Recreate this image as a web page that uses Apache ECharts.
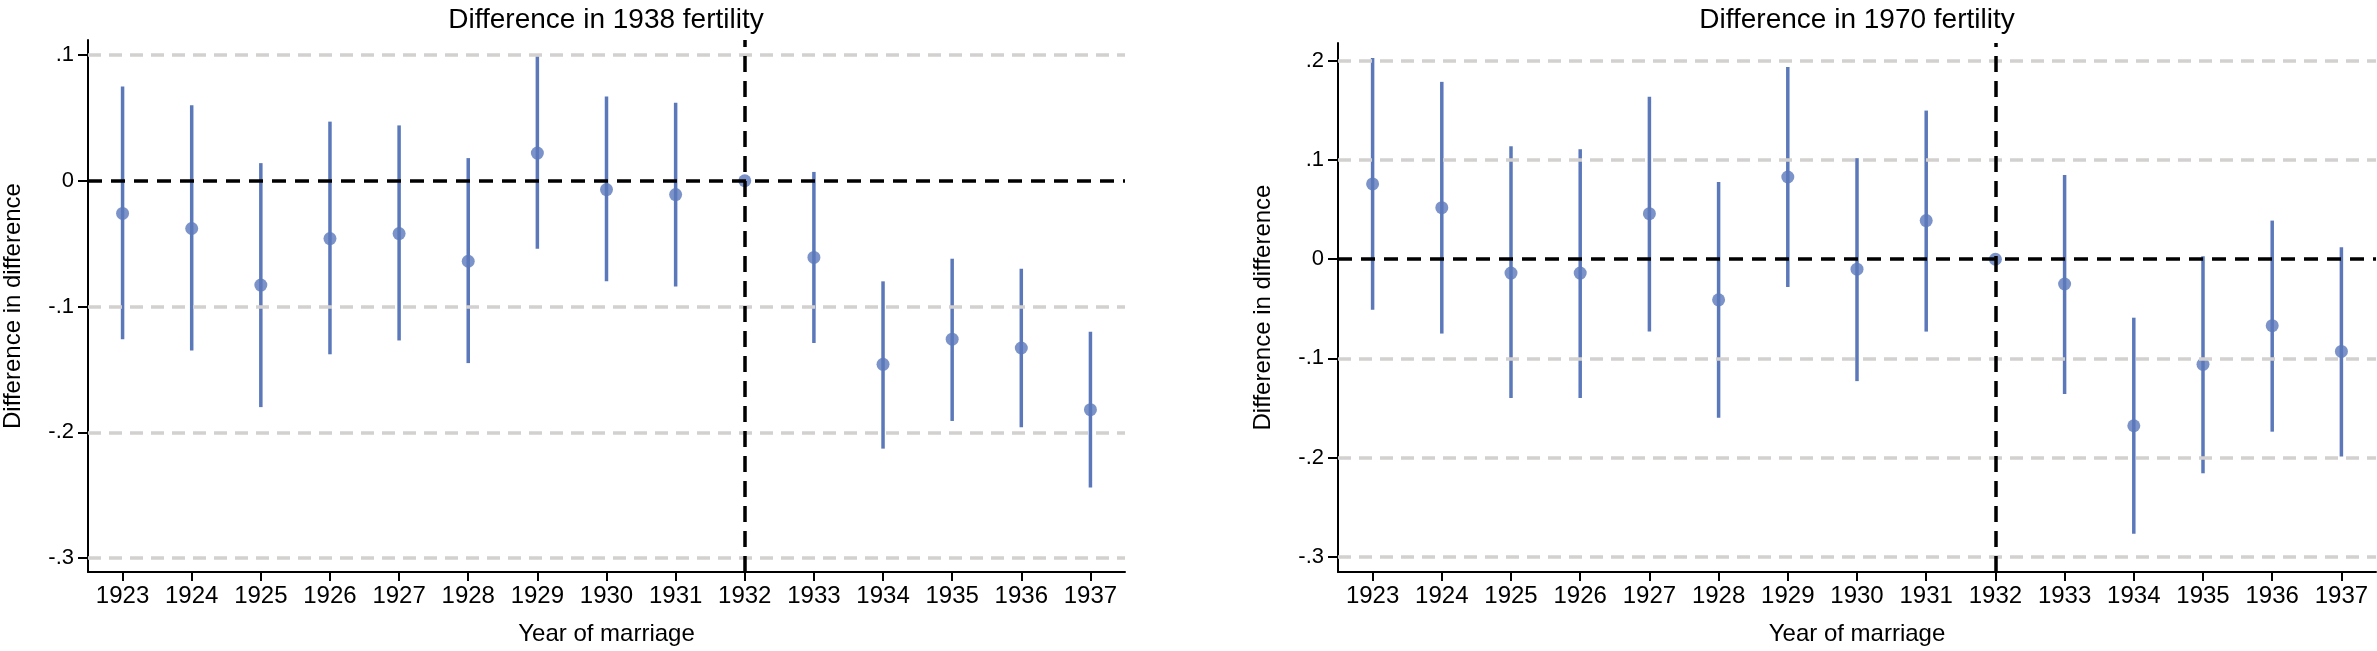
<!DOCTYPE html>
<html><head><meta charset="utf-8">
<script src="https://cdn.jsdelivr.net/npm/echarts@6/dist/echarts.min.js"></script>
<style>html,body{margin:0;padding:0;background:#fff}#c{width:2377px;height:651px}</style>
</head><body><div id="c"></div>
<script>
const years = ['1923','1924','1925','1926','1927','1928','1929','1930','1931','1932','1933','1934','1935','1936','1937'];

const est1938 = [-0.026, -0.038, -0.083, -0.046, -0.042, -0.064, 0.022, -0.007, -0.011, 0, -0.061, -0.146, -0.126, -0.133, -0.182];
const lo1938  = [-0.126, -0.135, -0.180, -0.138, -0.127, -0.145, -0.054, -0.080, -0.084, null, -0.129, -0.213, -0.191, -0.196, -0.244];
const hi1938  = [0.075, 0.060, 0.014, 0.047, 0.044, 0.018, 0.099, 0.067, 0.062, null, 0.007, -0.080, -0.062, -0.070, -0.120];

const est1970 = [0.076, 0.052, -0.014, -0.014, 0.046, -0.041, 0.083, -0.010, 0.039, 0, -0.025, -0.168, -0.106, -0.067, -0.093];
const lo1970  = [-0.051, -0.075, -0.140, -0.140, -0.073, -0.160, -0.028, -0.123, -0.073, null, -0.136, -0.277, -0.216, -0.174, -0.199];
const hi1970  = [0.203, 0.179, 0.114, 0.111, 0.164, 0.078, 0.194, 0.102, 0.150, null, 0.085, -0.059, 0.003, 0.039, 0.012];

const yTicks1938 = [-0.3, -0.2, -0.1, 0, 0.1];
const yTicks1970 = [-0.3, -0.2, -0.1, 0, 0.1, 0.2];
const titles = ['Difference in 1938 fertility', 'Difference in 1970 fertility'];
const refYear = '1932';

const BLUE = '#5a78ba';
const GRID = '#d3d0d0';
const FONT = 'Liberation Sans';

function fmt(v) {
  if (Math.abs(v) < 1e-9) return '0';
  return (Math.round(v * 10) / 10).toString().replace('0.', '.');
}

function errBar(params, api) {
  const lo = api.value(1), hi = api.value(2);
  if (lo == null || hi == null || isNaN(lo) || isNaN(hi)) return null;
  const x = api.value(0);
  const p1 = api.coord([x, lo]);
  const p2 = api.coord([x, hi]);
  return { type: 'line', shape: { x1: p1[0], y1: p1[1], x2: p2[0], y2: p2[1] },
           style: { stroke: BLUE, lineWidth: 3.5 } };
}

const panels = [
  { grid: { left: 87, top: 40, width: 1038, height: 534 }, min: -0.3111, max: 0.1119, ticks: yTicks1938, est: est1938, lo: lo1938, hi: hi1938, title: titles[0], cx: 606 },
  { grid: { left: 1338, top: 43, width: 1038, height: 535 }, min: -0.3156, max: 0.2182, ticks: yTicks1970, est: est1970, lo: lo1970, hi: hi1970, title: titles[1], cx: 1857 }
];

const option = {
  animation: false,
  backgroundColor: '#fff',
  textStyle: { fontFamily: FONT },
  title: panels.map(p => ({ text: p.title, left: p.cx, top: 6, textAlign: 'center', padding: 0,
    textStyle: { fontSize: 28, fontWeight: 'normal', color: '#000', fontFamily: FONT } })),
  grid: panels.map(p => Object.assign({ containLabel: false }, p.grid)),
  xAxis: panels.map((p, i) => ({
    type: 'category', gridIndex: i, data: years, boundaryGap: true,
    axisLine: { show: true, onZero: false, lineStyle: { color: '#000', width: 2 } },
    axisTick: { show: true, alignWithLabel: true, length: 9, lineStyle: { color: '#000', width: 2 } },
    axisLabel: { interval: 0, fontSize: 24, color: '#000', margin: 12, fontFamily: FONT },
    splitLine: { show: false },
    name: 'Year of marriage', nameLocation: 'middle', nameGap: 50,
    nameTextStyle: { fontSize: 24, color: '#000', fontFamily: FONT }
  })),
  yAxis: panels.map((p, i) => ({
    type: 'value', gridIndex: i, min: p.min, max: p.max,
    axisLine: { show: true, onZero: false, lineStyle: { color: '#000', width: 2 } },
    axisTick: { show: true, length: 10, lineStyle: { color: '#000', width: 2 }, customValues: p.ticks },
    axisLabel: { customValues: p.ticks, formatter: fmt, fontSize: 22, color: '#000', margin: 14, fontFamily: FONT },
    splitLine: { show: false },
    name: 'Difference in difference', nameLocation: 'middle', nameGap: 63, nameRotate: 90,
    nameTextStyle: { fontSize: 24, color: '#000', fontFamily: FONT }
  })),
  series: []
};

panels.forEach((p, i) => {
  option.series.push({
    type: 'line', xAxisIndex: i, yAxisIndex: i, data: [], z: 1, silent: true,
    markLine: {
      silent: true, symbol: 'none', animation: false, label: { show: false },
      data: p.ticks.filter(v => v !== 0).map(v => ({ yAxis: v, lineStyle: { color: GRID, width: 3.5, type: [13, 8] } }))
        .concat([
          { yAxis: 0, lineStyle: { color: '#000', width: 3.5, type: [14, 9] } },
          { xAxis: refYear, lineStyle: { color: '#000', width: 3.5, type: [16, 9] } }
        ])
    }
  });
  option.series.push({
    type: 'custom', xAxisIndex: i, yAxisIndex: i, z: 3,
    renderItem: errBar,
    data: years.map((y, k) => [k, p.lo[k], p.hi[k]])
  });
  option.series.push({
    type: 'scatter', xAxisIndex: i, yAxisIndex: i, z: 4,
    symbol: 'circle', symbolSize: 13, itemStyle: { color: BLUE },
    data: years.map((y, k) => [k, p.est[k]])
  });
});

const chart = echarts.init(document.getElementById('c'), null, { renderer: 'canvas' });
chart.setOption(option);
</script>
</body></html>
